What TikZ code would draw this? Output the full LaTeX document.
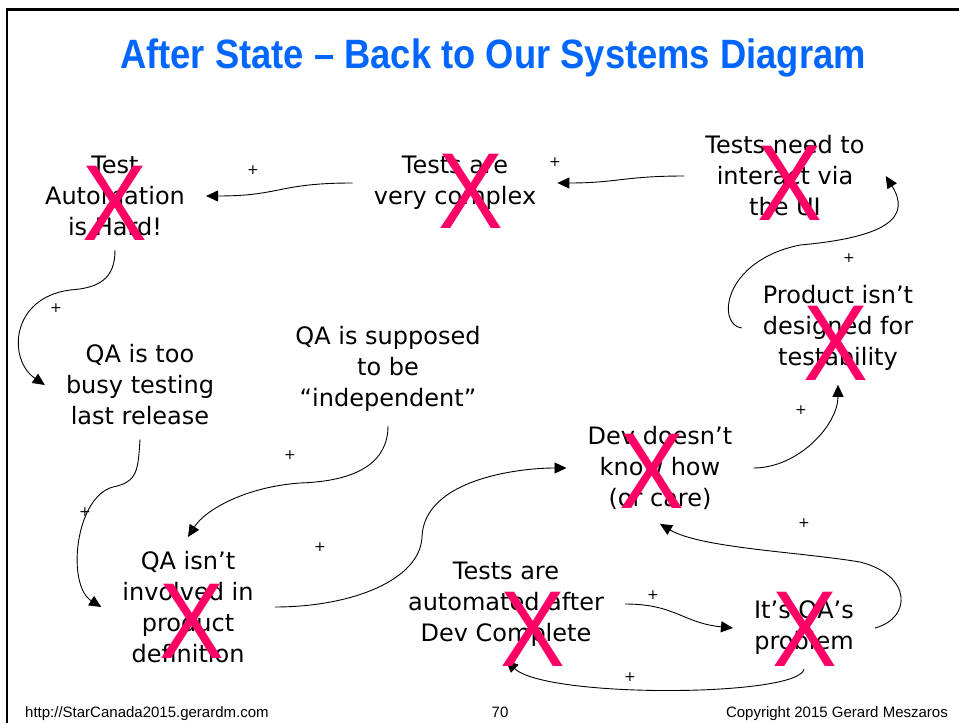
\documentclass[tikz,border=0pt]{standalone}
\usepackage{fontspec}
\usepackage{graphicx}
\usetikzlibrary{arrows.meta}
\newfontfamily\ideafont{DejaVu Sans}
\newfontfamily\slidefont{Liberation Sans}
\definecolor{titleblue}{RGB}{0,102,255}
\definecolor{crossred}{RGB}{255,0,102}

\begin{document}
\begin{tikzpicture}[x=1pt, y=-1pt]
\tikzstyle{idea}=[align=center, inner xsep=21pt, inner ysep=14pt, font=\ideafont\fontsize{24}{31}\selectfont]
\tikzstyle{cross}=[inner sep=0pt, text=crossred, font=\slidefont\fontsize{108}{108}\selectfont]
\tikzstyle{sign}=[inner sep=0pt, font=\ideafont\fontsize{14}{14}\selectfont]
\tikzstyle{link}=[-{Triangle[length=12pt, width=11pt]}, line width=0.9pt]
\tikzstyle{foot}=[inner sep=0pt, font=\slidefont\fontsize{15}{15}\selectfont]
\useasboundingbox (0,0) rectangle (959,723);
\draw[line width=2.5pt] (7,723) -- (7,9.5) -- (959,9.5);
\node (title) [text=titleblue, font=\slidefont\bfseries\fontsize{41}{41}\selectfont] at (493,58) {\scalebox{0.887}[1]{After State – Back to Our Systems Diagram}};
\node (tah) [idea] at (115,196) {Test\\Automation\\is Hard!};
\node (tvc) [idea] at (455,183) {Tests are\\very complex};
\node (tni) [idea] at (785,176) {Tests need to\\interact via\\the UI};
\node (pid) [idea] at (838,328) {Product isn’t\\designed for\\testability};
\node (qbt) [idea] at (140,385) {QA is too\\busy testing\\last release};
\node (qsi) [idea] at (388,369) {QA is supposed\\to be\\“independent”};
\node (ddk) [idea] at (660,468) {Dev doesn’t\\know how\\(or care)};
\node (qni) [idea] at (188,607) {QA isn’t\\involved in\\product\\definition};
\node (tad) [idea] at (506,604) {Tests are\\automated after\\Dev Complete};
\node (iqp) [idea] at (804,628) {It’s QA’s\\problem};
\draw[link] (tvc.west) .. controls +(-75,0) and +(75,0) .. (tah.east);
\draw[link] (tni.west) .. controls +(-60,0) and +(60,0) .. (tvc.east);
\draw[link] (pid.west) .. controls +(-25,-3) and +(-78,16) .. (800,245) .. controls +(90,-8) and +(25,40) .. (tni.east);
\draw[link] (tah.south) .. controls +(0,28) and +(30,-2) .. (70,290) .. controls +(-60,8) and +(-37,-25) .. (qbt.west);
\draw[link] (qbt.south) .. controls +(-2,30) and +(25,-5) .. (113,487) .. controls +(-38,10) and +(-35,-22) .. (qni.west);
\draw[link] (qsi.south) .. controls +(0,35) and +(60,-2) .. (300,483) .. controls +(-55,4) and +(17,-27) .. (qni.north);
\draw[link] (qni.east) .. controls +(77,0) and +(-2,43) .. (422,537) .. controls +(2,-57) and +(-50,0) .. (ddk.west);
\draw[link] (ddk.east) .. controls +(45,0) and +(0,40) .. (pid.south);
\draw[link] (iqp.east) .. controls +(37,-10) and +(52,13) .. (860,562) .. controls +(-60,-10) and +(40,24) .. (ddk.south);
\draw[link] (tad.east) .. controls +(50,0) and +(-50,-5) .. (iqp.west);
\draw[link] (iqp.south) .. controls +(-5,28) and +(40,38) .. (tad.south);
\node (xtah) [cross] at (115,203) {\scalebox{0.9}[1]{X}};
\node (xtvc) [cross] at (471,191) {\scalebox{0.9}[1]{X}};
\node (xtni) [cross] at (790,183) {\scalebox{0.9}[1]{X}};
\node (xpid) [cross] at (836,343) {\scalebox{0.9}[1]{X}};
\node (xddk) [cross] at (652,471) {\scalebox{0.9}[1]{X}};
\node (xqni) [cross] at (192,621) {\scalebox{0.9}[1]{X}};
\node (xtad) [cross] at (533,629) {\scalebox{0.9}[1]{X}};
\node (xiqp) [cross] at (805,629) {\scalebox{0.9}[1]{X}};
\node (p1) [sign] at (253,170) {+};
\node (p2) [sign] at (555,162) {+};
\node (p3) [sign] at (849,258) {+};
\node (p4) [sign] at (56,308) {+};
\node (p5) [sign] at (85,512) {+};
\node (p6) [sign] at (290,455) {+};
\node (p7) [sign] at (320,547) {+};
\node (p8) [sign] at (801,410) {+};
\node (p9) [sign] at (804,523) {+};
\node (p10) [sign] at (653,595) {+};
\node (p11) [sign] at (630,677) {+};
\node (url) [foot, anchor=base west] at (25,717) {http://StarCanada2015.gerardm.com};
\node (pnum) [foot, anchor=base] at (500,717) {70};
\node (copy) [foot, anchor=base east] at (948,717) {Copyright 2015 Gerard Meszaros};
\end{tikzpicture}
\end{document}
